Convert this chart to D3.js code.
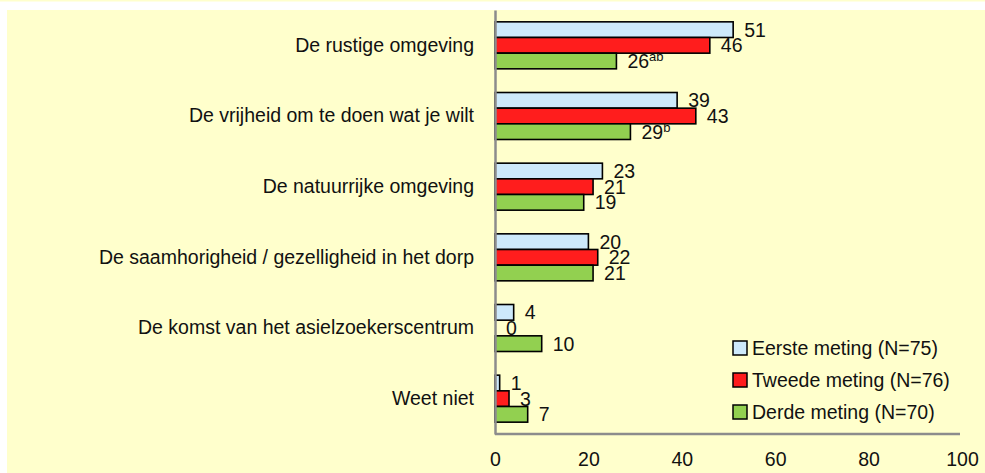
<!DOCTYPE html>
<html>
<head>
<meta charset="utf-8">
<script src="https://cdn.jsdelivr.net/npm/d3@7"></script>
<style>
  body { margin: 0; background: #fff; }
  svg text { font-family: "Liberation Sans", Arial, sans-serif; fill: #111; }
</style>
</head>
<body>
<div id="chart"></div>
<script>
// categories, top to bottom
const categories = [
    "De rustige omgeving",
    "De vrijheid om te doen wat je wilt",
    "De natuurrijke omgeving",
    "De saamhorigheid / gezelligheid in het dorp",
    "De komst van het asielzoekerscentrum",
    "Weet niet"
];
const seriesNames = ["Eerste meting (N=75)", "Tweede meting (N=76)", "Derde meting (N=70)"];
const eerste = [51, 39, 23, 20, 4, 1];
const tweede = [46, 43, 21, 22, 0, 3];
const derde = [26, 29, 19, 21, 10, 7];
// significance marks shown as superscript on the third measurement
const derdeSup = ["ab", "b", "", "", "", ""];
const xTicks = [0, 20, 40, 60, 80, 100];

const colors = ["#cde9fb", "#ff1d1d", "#92d050"];

let width = 985,
    height = 473,
    margin = { top: 10, right: 23, bottom: 39, left: 495 };

let svg = d3.select("#chart")
    .append("svg")
    .attr("width", width)
    .attr("height", height);

// background panels
svg.append("rect")
    .attr("x", 0).attr("y", 0)
    .attr("width", width).attr("height", 1.5)
    .attr("fill", "#ffffcc");
svg.append("rect")
    .attr("x", 7).attr("y", 10)
    .attr("width", width - 7).attr("height", height - 10)
    .attr("fill", "#ffffcc");

let x = d3.scaleLinear()
    .domain([0, 100])
    .range([margin.left, 962]);

let y = d3.scaleBand()
    .domain(categories)
    .range([margin.top, height - margin.bottom])
    .paddingInner(0.335)
    .paddingOuter(0.1675);

let ySub = d3.scaleBand()
    .domain([0, 1, 2])
    .range([0, y.bandwidth()]);

// build rows from the arrays
let series = [eerste, tweede, derde];
let rows = [];
categories.forEach((c, i) => {
    series.forEach((s, k) => {
        rows.push({ cat: c, k: k, value: s[i], sup: k === 2 ? derdeSup[i] : "" });
    });
});

// x axis
let xAxis = svg.append("g")
    .attr("transform", "translate(0," + (height - margin.bottom) + ")")
    .call(d3.axisBottom(x).tickValues(xTicks).tickSize(0).tickPadding(18).tickSizeOuter(0));
xAxis.select(".domain").attr("stroke", "#8c8c8c").attr("stroke-width", 2.5)
    .attr("d", "M" + margin.left + ",0H960");
xAxis.selectAll("text").attr("font-size", "19.5px").attr("font-family", null);

// bars
svg.selectAll("rect.bar")
    .data(rows).enter()
    .append("rect")
    .attr("class", "bar")
    .attr("x", x(0))
    .attr("y", d => y(d.cat) + ySub(d.k))
    .attr("width", d => x(d.value) - x(0))
    .attr("height", ySub.bandwidth())
    .attr("fill", d => colors[d.k])
    .attr("stroke", "#000")
    .attr("stroke-width", 1.6);

// y axis (category labels + vertical line)
let yAxis = svg.append("g")
    .attr("transform", "translate(" + margin.left + ",0)")
    .call(d3.axisLeft(y).tickSize(0).tickPadding(21).tickSizeOuter(0));
yAxis.select(".domain").attr("stroke", "#8c8c8c").attr("stroke-width", 2.5);
yAxis.selectAll("text").attr("font-size", "19.5px").attr("font-family", null);

// value labels
let lab = svg.selectAll("text.val")
    .data(rows).enter()
    .append("text")
    .attr("class", "val")
    .attr("x", d => x(d.value) + 11)
    .attr("y", d => y(d.cat) + ySub(d.k) + ySub.bandwidth() / 2)
    .attr("dy", "0.36em")
    .attr("font-size", "19.5px");
lab.append("tspan").text(d => d.value);
lab.filter(d => d.sup).append("tspan")
    .attr("font-size", "13px")
    .attr("dy", "-0.55em")
    .text(d => d.sup);

// legend
let legend = svg.selectAll("g.legend")
    .data(seriesNames).enter()
    .append("g")
    .attr("class", "legend")
    .attr("transform", (d, i) => "translate(733," + (348 + i * 32) + ")");
legend.append("rect")
    .attr("x", 0).attr("y", -7)
    .attr("width", 14).attr("height", 14)
    .attr("fill", (d, i) => colors[i])
    .attr("stroke", "#000")
    .attr("stroke-width", 1.5);
legend.append("text")
    .attr("x", 19)
    .attr("dy", "0.36em")
    .attr("font-size", "19.5px")
    .text(d => d);
</script>
</body>
</html>
